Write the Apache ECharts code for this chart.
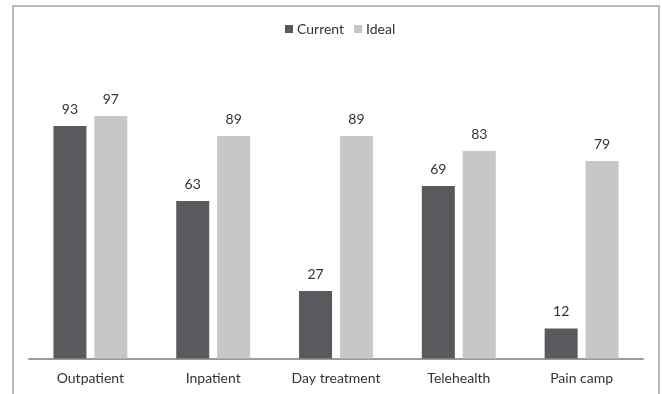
<!DOCTYPE html>
<html>
<head>
<meta charset="utf-8">
<script src="https://cdn.jsdelivr.net/npm/echarts@6/dist/echarts.min.js"></script>
<style>
  html, body { margin: 0; padding: 0; background: #fff; }
  #chart { width: 662px; height: 394px; }
</style>
</head>
<body>
<div id="chart"></div>
<script>
// Service settings and their scores
const categories = ['Outpatient', 'Inpatient', 'Day treatment', 'Telehealth', 'Pain camp'];
const currentValues = [93, 63, 27, 69, 12];
const idealValues = [97, 89, 89, 83, 79];
const seriesNames = ['Current', 'Ideal'];

const FONT = 'Lato, "Open Sans", sans-serif';
const chart = echarts.init(document.getElementById('chart'));

const valueLabel = {
  show: true,
  position: 'top',
  distance: 10,
  color: '#333',
  fontSize: 14,
  fontFamily: FONT
};

chart.setOption({
  animation: false,
  backgroundColor: '#fff',
  textStyle: { fontFamily: FONT },
  graphic: [{
    type: 'rect',
    shape: { x: 13, y: 6, width: 646, height: 420 },
    style: { fill: 'none', stroke: '#a3a3a3', lineWidth: 1.5 },
    silent: true
  }],
  legend: {
    data: seriesNames,
    left: 280,
    top: 17,
    itemWidth: 8,
    itemHeight: 8,
    itemGap: 10,
    icon: 'rect',
    textStyle: { color: '#333', fontSize: 14, fontFamily: FONT, padding: [0, 0, 0, -1] }
  },
  grid: { left: 29, right: 19, top: 108.5, bottom: 35.5, containLabel: false },
  xAxis: {
    type: 'category',
    data: categories,
    axisLine: { lineStyle: { color: '#9a9a9a', width: 2 } },
    axisTick: { show: false },
    axisLabel: { color: '#333', fontSize: 14, fontFamily: FONT, margin: 13 }
  },
  yAxis: {
    type: 'value',
    min: 0,
    max: 100,
    show: false,
    splitLine: { show: false }
  },
  series: [
    {
      name: seriesNames[0],
      type: 'bar',
      data: currentValues,
      barWidth: 33,
      barGap: '24%',
      itemStyle: { color: '#595a5e' },
      label: valueLabel
    },
    {
      name: seriesNames[1],
      type: 'bar',
      data: idealValues,
      barWidth: 33,
      itemStyle: { color: '#c6c7c9' },
      label: valueLabel
    }
  ]
});
</script>
</body>
</html>
